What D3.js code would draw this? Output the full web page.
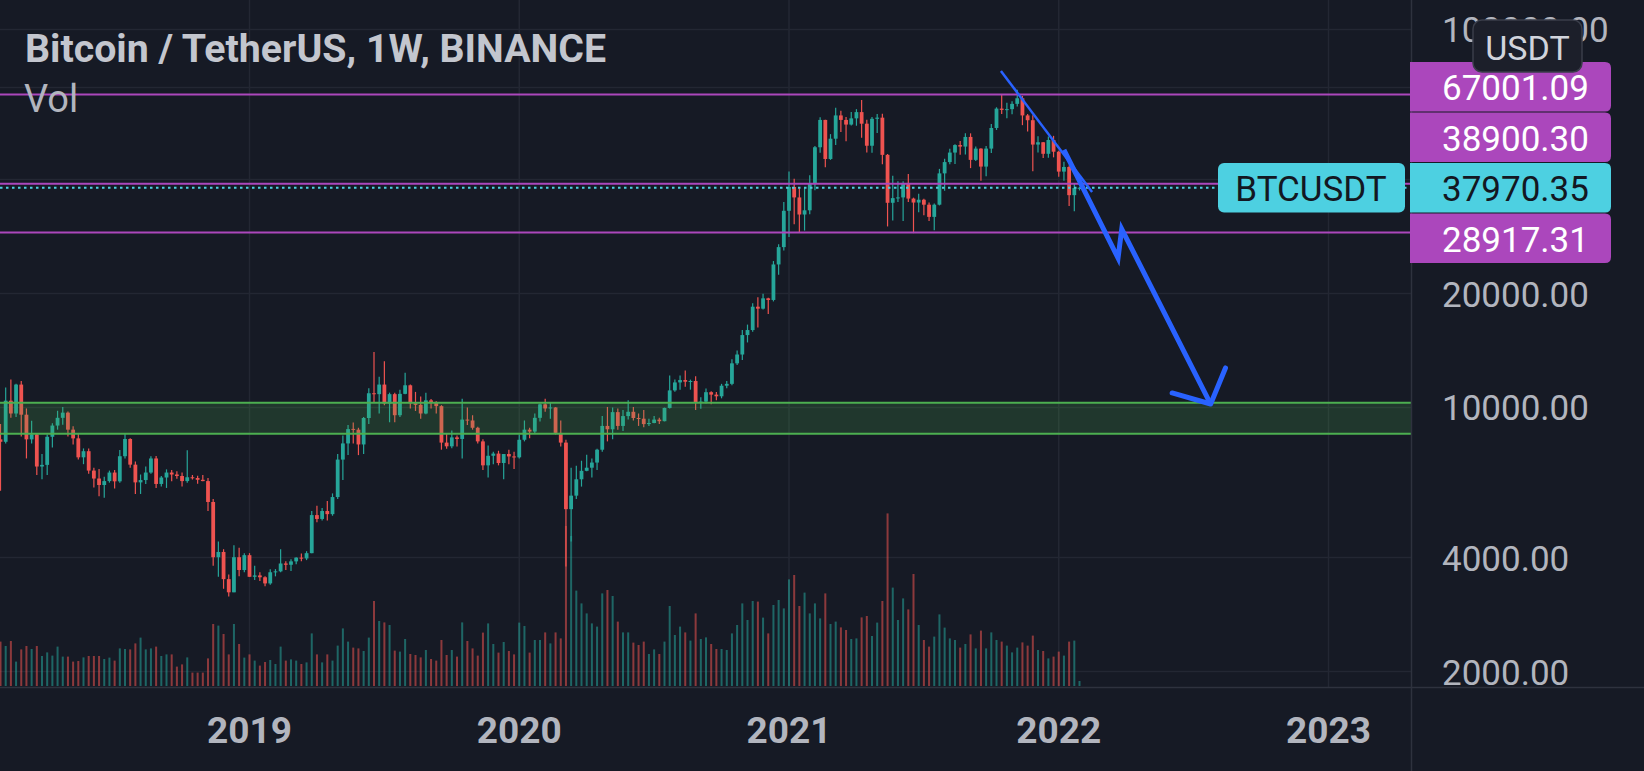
<!DOCTYPE html>
<html><head><meta charset="utf-8">
<script src="https://cdn.jsdelivr.net/npm/d3@7"></script>
<style>
html,body{margin:0;padding:0;background:#161a25;overflow:hidden}
svg{display:block}
text{font-family:Roboto,"Noto Sans",sans-serif}
</style></head><body>
<svg id="chart" width="1644" height="771"></svg>
<script>
// ---------------- data ----------------
const firstWeek = "2018-02-05";   // Monday of the first weekly candle
const opens = [
8200,8080,10380,9600,11450,9530,8200,8450,6950,7020,
8330,8920,9350,9650,8700,8250,7350,7630,6780,6460,
6210,6360,6700,6350,7400,8220,7030,6310,6400,6700,
7300,6250,6500,6700,6620,6560,6360,6510,6480,6410,
6360,5600,4000,4130,3500,3230,4000,3700,4050,3550,
3580,3540,3410,3650,3670,3850,3820,3900,3990,3970,
4100,5170,5050,5300,5200,5770,7250,8000,8740,8700,
7950,9340,10860,10800,11450,10200,10800,9500,10820,11400,
10220,10120,9600,10400,10300,10040,8040,7860,8300,8220,
9250,9200,8800,8100,7000,7420,7520,7100,7500,7390,
7350,8180,8700,8600,9350,10150,9900,9960,8530,8040,
5360,5820,6430,6770,6900,7120,7700,8900,8720,9680,
8900,9450,9700,9340,9300,9000,9060,9250,9160,9930,
11050,11600,11770,11650,11700,10250,10320,10930,10770,10660,
11370,11500,13030,13750,15480,15960,18400,18180,19360,19170,
23800,26450,33000,38150,35800,32260,33100,38900,48600,57400,
45250,51200,59000,57400,55800,57950,60200,56100,49050,57800,
58200,46400,34650,35650,35800,39100,35550,34700,35300,34250,
31800,34250,41450,44400,47050,49250,48800,51750,45000,48200,
43200,48200,54650,61500,61000,61300,63300,65500,59000,57300,
49400,50100,46700,50800,47300,41900,43100,36300,37900];
const highs = [
9000,11250,11800,11500,11700,9900,9180,8500,7500,8450,
9040,9760,9990,9720,8880,8500,7760,7760,6900,6850,
6530,6780,6800,7690,8500,8250,7170,6620,6950,7400,
7410,6560,6830,6800,6750,6700,7680,6600,6570,6600,
6480,5700,4400,4200,3600,4300,4240,4100,4100,3800,
3650,3560,3720,3720,4200,3900,3950,4000,4090,4150,
5300,5470,5400,5630,5900,7500,8400,8950,9090,8800,
9400,11200,13970,12000,13200,10900,10900,11100,12300,11450,
10950,10650,10900,10480,10350,10100,8500,8650,8400,10500,
9950,9500,8850,8200,7900,7600,7650,7500,7700,7600,
8450,9200,8800,9600,10200,10500,10250,9980,9200,8180,
6900,6980,7200,7470,7300,7750,9450,9990,9950,9900,
9800,10400,9990,9600,9800,9300,9450,9350,9950,12100,
11800,12100,12480,11800,12050,10600,11180,10990,10950,11500,
11700,13350,14100,15960,16500,18800,19500,19920,19420,24300,
26900,34800,41950,40100,37850,38000,40950,49000,58350,57500,
52650,61800,60700,58400,60200,61300,64850,57500,58450,59500,
59600,46650,40850,39500,39500,41300,35750,36600,35500,34700,
34500,42600,45300,48150,49500,50500,52900,52900,48850,48300,
49000,56000,62000,67000,63700,64300,69000,66400,59500,59100,
51950,50200,51900,52100,47600,44500,43500,38950,38200];
const lows = [
6000,8000,9350,9400,8350,7300,8000,6600,6430,6600,
7800,8700,8970,8350,7950,7250,7050,6650,6120,5800,
5750,6300,6080,6300,7300,6900,5880,5880,6250,6650,
6100,6150,6100,6350,6450,6150,6300,6420,6260,6350,
5300,3800,3550,3300,3150,3230,3560,3650,3550,3480,
3460,3350,3380,3560,3650,3700,3680,3830,3900,3930,
4100,4950,5000,5000,5150,5700,6400,7450,8000,7450,
7500,9000,10300,9600,10100,9100,9100,9400,10800,9900,
9750,9300,9550,9900,9600,7700,7750,7770,7850,7300,
8950,8700,8000,6800,6500,7050,7000,6430,7050,6850,
7300,8100,8250,8500,9150,9700,9300,8450,7850,3780,
4400,5700,6150,6750,6500,6800,7600,8100,8200,8700,
8630,9250,9200,8900,8830,8900,9050,9000,9150,9900,
10960,11100,11300,11100,9800,9880,10200,10150,10400,10530,
11200,11400,12900,13300,14800,15800,16200,18100,17600,19000,
22350,25900,28130,30400,28850,29250,32300,37400,47000,43000,
45000,49300,53300,50400,55500,55400,51500,47100,47000,53000,
43800,30000,31100,34800,31000,34800,28800,32700,32100,31000,
29300,34100,37300,43800,43900,46400,46500,42800,44700,39600,
40750,46900,54000,59500,58000,59400,62300,55600,53500,42000,
47100,45500,45600,45700,40600,39650,34000,32900,37350];
const closes = [
8080,10380,9600,11450,9530,8200,8450,6950,7020,8330,
8920,9350,9650,8700,8250,7350,7630,6780,6460,6210,
6360,6700,6350,7400,8220,7030,6310,6400,6700,7300,
6250,6500,6700,6620,6560,6360,6510,6480,6410,6360,
5600,4000,4130,3500,3230,4000,3700,4050,3550,3580,
3540,3410,3650,3670,3850,3820,3900,3990,3970,4100,
5170,5050,5300,5200,5770,7250,8000,8730,8700,7950,
9340,10860,10800,11450,10200,10800,9500,10820,11400,10220,
10120,9600,10400,10300,10040,8040,7860,8300,8220,9250,
9200,8800,8100,7000,7420,7520,7100,7500,7390,7350,
8180,8700,8600,9350,10150,9900,9960,8530,8040,5360,
5820,6430,6770,6900,7120,7700,8900,8720,9680,8900,
9450,9700,9340,9300,9000,9060,9250,9160,9930,11050,
11600,11770,11650,11700,10250,10320,10930,10770,10660,11370,
11500,13030,13750,15480,15960,18400,18180,19360,19170,23800,
26450,33000,38150,35800,32260,33100,38900,48600,57400,45250,
51200,59000,57400,55800,57950,60200,56100,49050,57800,58200,
46400,34650,35650,35800,39100,35550,34700,35300,34250,31800,
34250,41450,44400,47050,49250,48800,51750,45000,48200,43200,
48200,54650,61500,61000,61300,63300,65500,59000,57300,49400,
50100,46700,50800,47300,41900,43100,36300,37900,37970];
// weekly volume, thousand BTC
const volumes = [
222,200,225,122,183,200,185,200,150,168,
152,197,147,147,122,125,143,150,150,150,
135,142,127,188,185,183,213,242,183,188,
197,150,158,158,97,108,143,67,67,67,
138,310,302,260,158,310,210,142,158,127,
102,120,130,110,197,127,133,127,110,118,
263,158,118,158,127,202,288,222,192,188,
175,242,425,325,318,305,177,172,235,160,
155,143,180,135,127,230,155,180,147,318,
225,188,152,267,313,210,167,220,175,158,
317,300,167,230,230,268,213,268,238,800,
750,477,413,363,313,297,463,480,450,322,
268,268,217,205,222,160,183,160,222,400,
255,297,268,227,363,235,243,210,185,185,
180,263,305,413,330,425,422,342,263,405,
430,388,533,555,400,467,363,413,338,463,
310,322,293,280,235,238,343,350,250,317,
425,863,492,330,438,383,560,305,230,197,
247,358,292,238,230,192,210,258,188,277,
188,268,230,222,202,168,192,218,202,252,
180,175,138,147,172,152,222,227,25];

const yearTickDates = ["2019-01-07","2020-01-06","2021-01-04","2022-01-03","2023-01-02"];
const yearTickLabels = ["2019","2020","2021","2022","2023"];
const priceTicks = [100000, 20000, 10000, 4000, 2000];
const priceGridExtra = [70000, 40000];
const levelLines = [67001.09, 38900.30, 28917.31];
const lastPrice = 37970.35;
const symbolName = "BTCUSDT";
const currency = "USDT";
const zoneBounds = [8480, 10250];
const trendLine = [["2021-10-17", 77300], ["2022-02-17", 37000]];
const forecastPath = [["2022-01-10", 47800], ["2022-03-24", 24750], ["2022-03-29", 29530], ["2022-07-27", 10170]];
const forecastHead = [["2022-06-05", 10880], ["2022-07-27", 10170], ["2022-08-16", 12670]];
const titleText = "Bitcoin / TetherUS, 1W, BINANCE";
const volLabel = "Vol";

// ---------------- setup ----------------
const W = 1644, H = 771;
const plotRight = 1411, plotBottom = 687;
const C = {
  bg: "#161a25", grid: "#232733", sep: "#2e323e",
  up: "#26a69a", down: "#ef5350",
  purple: "#ab47bc", cyan: "#4dd0e1", green: "#4caf50", blue: "#2962ff",
  axisText: "#b2b5be", title: "#c3c6ce"
};
const pd = d3.utcParse("%Y-%m-%d");
const t0 = pd(firstWeek);
const weeks = opens.map((_, i) => d3.utcMonday.offset(t0, i));
const candles = weeks.map((d, i) => ({d, o: opens[i], h: highs[i], l: lows[i], c: closes[i], v: volumes[i]}));

const x = d3.scaleUtc().domain([t0, pd("2023-01-02")]).range([0.5, 1328.5]);
const y = d3.scaleLog().domain([2000, 100000]).range([671, 28.8]);
const yv = d3.scaleLinear().domain([0, 1000]).range([686, 486]);
const fmt = d3.format(".2f");

const svg = d3.select("#chart");
svg.append("rect").attr("width", W).attr("height", H).attr("fill", C.bg);

const defs = svg.append("defs");
defs.append("clipPath").attr("id", "plotClip").append("rect")
  .attr("x", 0).attr("y", 0).attr("width", plotRight).attr("height", plotBottom);

const plot = svg.append("g").attr("clip-path", "url(#plotClip)");

// grid
plot.append("g").selectAll("line").data(priceTicks.concat(priceGridExtra)).join("line")
  .attr("x1", 0).attr("x2", plotRight)
  .attr("y1", d => Math.round(y(d)) + 0.5).attr("y2", d => Math.round(y(d)) + 0.5)
  .attr("stroke", C.grid).attr("stroke-width", 1.5);
plot.append("g").selectAll("line").data(yearTickDates).join("line")
  .attr("x1", d => x(pd(d))).attr("x2", d => x(pd(d)))
  .attr("y1", 0).attr("y2", plotBottom)
  .attr("stroke", C.grid).attr("stroke-width", 1.5);

// volume
plot.append("g").selectAll("rect").data(candles).join("rect")
  .attr("x", d => x(d.d) - 1).attr("width", 2)
  .attr("y", d => yv(d.v)).attr("height", d => yv(0) - yv(d.v))
  .attr("fill", d => d.c >= d.o ? C.up : C.down).attr("fill-opacity", 0.55);

// candles
const cg = plot.append("g");
cg.selectAll("line").data(candles).join("line")
  .attr("x1", d => x(d.d)).attr("x2", d => x(d.d))
  .attr("y1", d => y(d.h)).attr("y2", d => y(d.l))
  .attr("stroke", d => d.c >= d.o ? C.up : C.down).attr("stroke-width", 1.2);
cg.selectAll("rect").data(candles).join("rect")
  .attr("x", d => x(d.d) - 1.9).attr("width", 3.8)
  .attr("y", d => y(Math.max(d.o, d.c)))
  .attr("height", d => Math.max(1, Math.abs(y(d.o) - y(d.c))))
  .attr("fill", d => d.c >= d.o ? C.up : C.down);

// green zone
plot.append("rect")
  .attr("x", 0).attr("width", plotRight)
  .attr("y", y(zoneBounds[1])).attr("height", y(zoneBounds[0]) - y(zoneBounds[1]))
  .attr("fill", C.green).attr("fill-opacity", 0.2);
plot.append("g").selectAll("line").data(zoneBounds).join("line")
  .attr("x1", 0).attr("x2", plotRight).attr("y1", d => y(d)).attr("y2", d => y(d))
  .attr("stroke", C.green).attr("stroke-width", 2);

// level lines
plot.append("g").selectAll("line").data(levelLines).join("line")
  .attr("x1", 0).attr("x2", plotRight).attr("y1", d => y(d)).attr("y2", d => y(d))
  .attr("stroke", C.purple).attr("stroke-width", 2);

// last price dotted line
plot.append("line").attr("x1", 0).attr("x2", plotRight)
  .attr("y1", y(lastPrice)).attr("y2", y(lastPrice))
  .attr("stroke", C.cyan).attr("stroke-width", 2).attr("stroke-dasharray", "2.5 3.5");

// drawings
const line = d3.line().x(p => x(pd(p[0]))).y(p => y(p[1]));
plot.append("path").attr("d", line(trendLine)).attr("fill", "none")
  .attr("stroke", C.blue).attr("stroke-width", 2.5);
plot.append("path").attr("d", line(forecastPath)).attr("fill", "none")
  .attr("stroke", C.blue).attr("stroke-width", 5).attr("stroke-linejoin", "miter");
plot.append("path").attr("d", line(forecastHead)).attr("fill", "none")
  .attr("stroke", C.blue).attr("stroke-width", 5).attr("stroke-linejoin", "round").attr("stroke-linecap", "round");

// separators
svg.append("line").attr("x1", plotRight + 0.5).attr("x2", plotRight + 0.5).attr("y1", 0).attr("y2", H)
  .attr("stroke", C.sep).attr("stroke-width", 1.5);
svg.append("line").attr("x1", 0).attr("x2", W).attr("y1", plotBottom + 0.5).attr("y2", plotBottom + 0.5)
  .attr("stroke", C.sep).attr("stroke-width", 1.5);

// price axis labels
svg.append("g").selectAll("text").data(priceTicks).join("text")
  .attr("x", 1442).attr("y", d => y(d) + 2)
  .attr("dominant-baseline", "central")
  .attr("font-size", 35).attr("fill", C.axisText).text(d => fmt(d));

// time axis labels
svg.append("g").selectAll("text").data(yearTickDates).join("text")
  .attr("x", d => x(pd(d))).attr("y", 743)
  .attr("text-anchor", "middle").attr("font-size", 37).attr("font-weight", 700)
  .attr("fill", C.axisText).text((d, i) => yearTickLabels[i]);

// price labels with collision layout
const LH = 50.5;
const cur = {p: lastPrice, y: y(lastPrice)}; cur.ly = cur.y;
const lv = levelLines.map(p => ({p, y: y(p)}));
let prev = cur.y;
lv.filter(l => l.y < cur.y).sort((a, b) => b.y - a.y).forEach(l => { l.ly = Math.min(l.y, prev - LH); prev = l.ly; });
prev = cur.y;
lv.filter(l => l.y >= cur.y).sort((a, b) => a.y - b.y).forEach(l => { l.ly = Math.max(l.y, prev + LH); prev = l.ly; });

function tagPath(x0, yc, w, h, r) {
  const y0 = yc - h / 2, y1 = yc + h / 2, x1 = x0 + w;
  return `M${x0},${y0}H${x1 - r}Q${x1},${y0} ${x1},${y0 + r}V${y1 - r}Q${x1},${y1} ${x1 - r},${y1}H${x0}Z`;
}
const lg = svg.append("g");
lg.selectAll("path").data(lv).join("path")
  .attr("d", d => tagPath(1410, d.ly, 201, LH - 1, 6)).attr("fill", C.purple);
lg.selectAll("text").data(lv).join("text")
  .attr("x", 1442).attr("y", d => d.ly + 2).attr("dominant-baseline", "central")
  .attr("font-size", 35).attr("fill", "#ffffff").text(d => fmt(d.p));
lg.append("path").attr("d", tagPath(1410, cur.ly, 201, LH - 1, 6)).attr("fill", C.cyan);
lg.append("text").attr("x", 1442).attr("y", cur.ly + 2).attr("dominant-baseline", "central")
  .attr("font-size", 35).attr("fill", "#131722").text(fmt(cur.p));
// symbol tag
lg.append("rect").attr("x", 1218).attr("y", cur.ly - (LH - 1) / 2).attr("width", 187).attr("height", LH - 1)
  .attr("rx", 6).attr("fill", C.cyan);
lg.append("text").attr("x", 1311).attr("y", cur.ly + 2).attr("dominant-baseline", "central")
  .attr("text-anchor", "middle").attr("font-size", 35).attr("fill", "#131722").text(symbolName);

// currency box
svg.append("rect").attr("x", 1473).attr("y", 20).attr("width", 109).attr("height", 52).attr("rx", 9)
  .attr("fill", "#1c1f2a").attr("stroke", "#3a3e4a").attr("stroke-width", 1.5);
svg.append("text").attr("x", 1527.5).attr("y", 48).attr("dominant-baseline", "central")
  .attr("text-anchor", "middle").attr("font-size", 34).attr("fill", "#d1d4dc").text(currency);

// legend
svg.append("text").attr("x", 25).attr("y", 62).attr("font-size", 38).attr("font-weight", 700)
  .attr("fill", C.title).attr("textLength", 581).attr("lengthAdjust", "spacingAndGlyphs").text(titleText);
svg.append("text").attr("x", 24).attr("y", 112).attr("font-size", 38)
  .attr("fill", C.axisText).text(volLabel);
</script>
</body></html>
